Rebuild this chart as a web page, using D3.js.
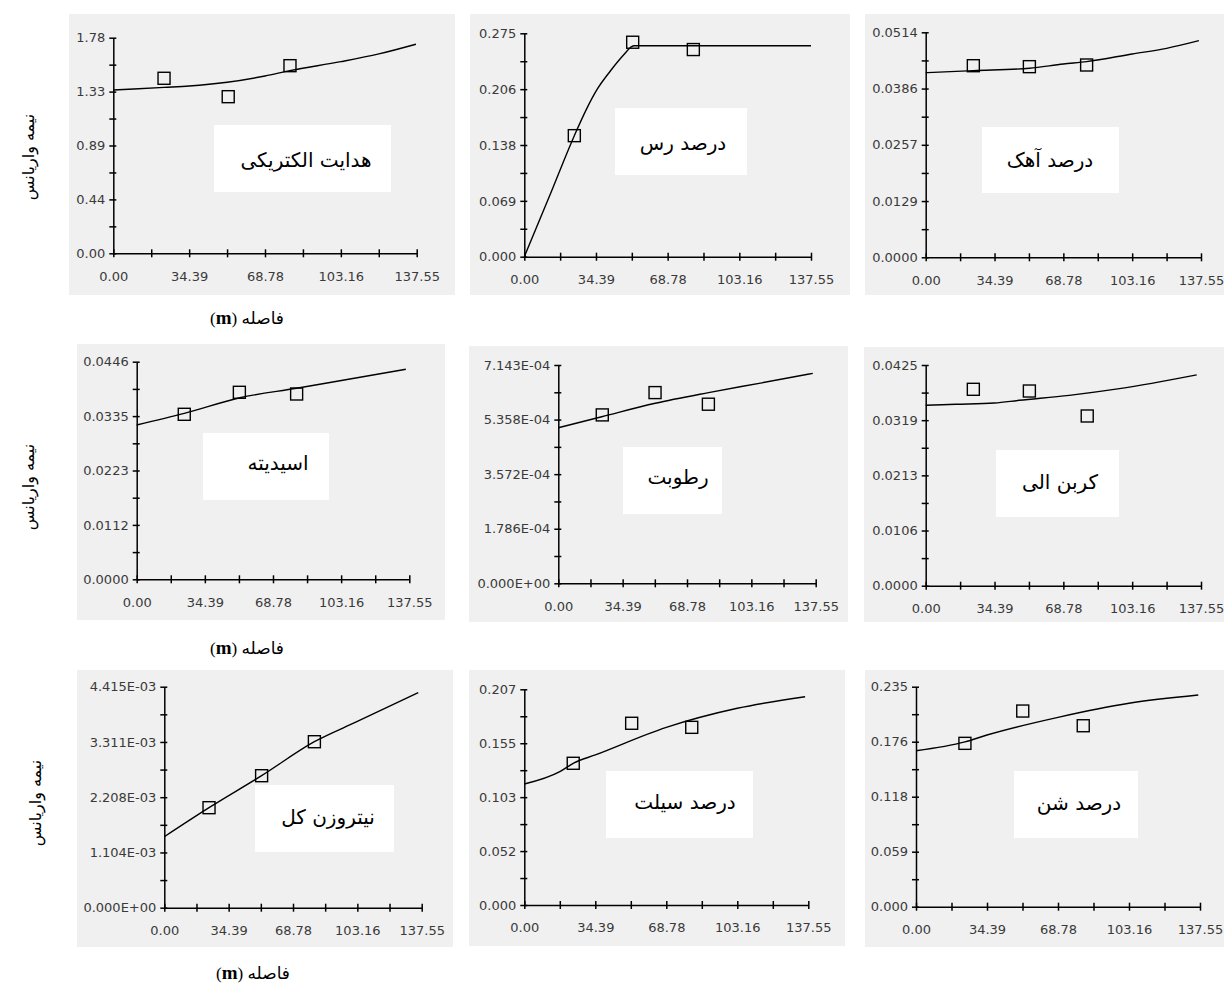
<!DOCTYPE html>
<html>
<head>
<meta charset="utf-8">
<script src="https://d3js.org/d3.v7.min.js"></script>
<style>
  body { margin: 0; background: #fff; }
</style>
</head>
<body>
<svg id="chart" width="1224" height="986"></svg>
<script>
// ---- data ----
const panelTitles = ["هدایت الکتریکی", "درصد رس", "درصد آهک",
                     "اسیدیته", "رطوبت", "کربن الی",
                     "نیتروزن کل", "درصد سیلت", "درصد شن"];
const yAxisTitle = "نیمه واریانس";
const xAxisTitle = "فاصله";
const xMax = 137.55;
const xTickLabels = ["0.00", "34.39", "68.78", "103.16", "137.55"];
const yMax = [1.78, 0.275, 0.0514, 0.0446, 7.143e-4, 0.0425, 4.415e-3, 0.207, 0.235];
const yTickLabels = [
  ["0.00", "0.44", "0.89", "1.33", "1.78"],
  ["0.000", "0.069", "0.138", "0.206", "0.275"],
  ["0.0000", "0.0129", "0.0257", "0.0386", "0.0514"],
  ["0.0000", "0.0112", "0.0223", "0.0335", "0.0446"],
  ["0.000E+00", "1.786E-04", "3.572E-04", "5.358E-04", "7.143E-04"],
  ["0.0000", "0.0106", "0.0213", "0.0319", "0.0425"],
  ["0.000E+00", "1.104E-03", "2.208E-03", "3.311E-03", "4.415E-03"],
  ["0.000", "0.052", "0.103", "0.155", "0.207"],
  ["0.000", "0.059", "0.118", "0.176", "0.235"]
];
// experimental points (squares)
const pointLags = [
  [23.0, 52.1, 80.1], [24.0, 52.0, 81.1], [23.8, 51.8, 80.4],
  [24.0, 51.8, 80.7], [23.5, 51.7, 80.2], [23.8, 51.8, 80.7],
  [23.9, 52.0, 80.2], [23.7, 52.0, 81.1], [23.7, 51.7, 81.0]
];
const pointGammas = [
  [1.445, 1.293, 1.549], [0.149, 0.264, 0.255], [0.04377, 0.04355, 0.04393],
  [0.03382, 0.03833, 0.03798], [5.51e-4, 6.24e-4, 5.86e-4], [0.03782, 0.03749, 0.03268],
  [1.998e-3, 2.637e-3, 3.316e-3], [0.136, 0.1744, 0.1705], [0.1745, 0.209, 0.1933]
];
// fitted model curves
const curveLags = [
  [0, 23, 34.39, 51.6, 68.78, 80, 103.16, 120.4, 137.2],
  [0, 12, 24, 29.9, 34.7, 41.1, 47.5, 51.5, 52.5, 137.55],
  [0, 23.8, 51.8, 68.78, 80.4, 103.16, 120.36, 136.5],
  [0, 24, 52.1, 80.7, 107.6, 135.8],
  [0, 23.2, 51.8, 80.3, 108.8, 136],
  [0, 15, 34.3, 46.7, 71.7, 96.8, 135.4],
  [0, 23.9, 52, 80.2, 103.16, 135.7],
  [0, 17.2, 23.7, 34.39, 68.78, 103.16, 136],
  [0, 23.7, 34.39, 68.78, 103.16, 136.7]
];
const curveGammas = [
  [1.348, 1.37, 1.381, 1.412, 1.464, 1.508, 1.582, 1.646, 1.726],
  [0, 0.074, 0.149, 0.182, 0.205, 0.228, 0.248, 0.2585, 0.2597, 0.2597],
  [0.04218, 0.04264, 0.04318, 0.04416, 0.0447, 0.04645, 0.04774, 0.04949],
  [0.03163, 0.034, 0.03722, 0.03915, 0.04105, 0.04304],
  [5.09e-4, 5.45e-4, 5.89e-4, 6.24e-4, 6.56e-4, 6.87e-4],
  [0.03474, 0.03493, 0.03518, 0.0357, 0.03666, 0.03794, 0.0406],
  [1.418e-3, 1.998e-3, 2.637e-3, 3.316e-3, 3.72e-3, 4.295e-3],
  [0.1161, 0.128, 0.136, 0.144, 0.1705, 0.1888, 0.1999],
  [0.1666, 0.176, 0.1834, 0.2023, 0.2173, 0.2261]
];

// ---- layout (pixels) ----
// bg: gray panel, xa/xe: x axis range, yb/yt: y axis range, box: title box, tx/ty: title centre
const frames = [
  {bg: [69, 14, 455, 295],   xa: 113.3, xe: 416.7, yb: 253.3, yt: 37.7,  box: [214, 125, 391, 192],  tx: 306,  ty: 160},
  {bg: [470, 14, 850, 295],  xa: 524.3, xe: 811,   yb: 256.7, yt: 33.3,  box: [615, 108, 747, 175],  tx: 683,  ty: 143},
  {bg: [865, 14, 1224, 295], xa: 925.7, xe: 1201,  yb: 257.3, yt: 32.3,  box: [982, 127, 1119, 193], tx: 1050, ty: 160},
  {bg: [77, 344, 445, 620],  xa: 136.7, xe: 409.3, yb: 579.3, yt: 361.7, box: [203, 433, 329, 500],  tx: 278,  ty: 463},
  {bg: [469, 346, 848, 622], xa: 558.3, xe: 815.7, yb: 583.3, yt: 365,   box: [623, 447, 722, 514],  tx: 678,  ty: 477},
  {bg: [864, 347, 1224, 622],xa: 925.7, xe: 1201,  yb: 585.7, yt: 365,   box: [996, 450, 1119, 517], tx: 1060, ty: 482},
  {bg: [77, 670, 453, 947],  xa: 164.3, xe: 421.7, yb: 907.7, yt: 686.7, box: [255, 785, 394, 852],  tx: 328,  ty: 817},
  {bg: [469, 670, 845, 946], xa: 524.3, xe: 808.3, yb: 905,   yt: 689.3, box: [606, 771, 753, 838],  tx: 685,  ty: 802},
  {bg: [865, 670, 1224, 947],xa: 916,   xe: 1200,  yb: 906.7, yt: 686.7, box: [1014, 771, 1138, 838],tx: 1079, ty: 803}
];
const rowYTitle = [[28, 157], [28, 487], [35, 803]];
const rowXTitle = [[247, 318], [247, 648], [253, 973]];

const svg = d3.select("#chart");
const tickFont = "DejaVu Sans, Verdana, sans-serif";

frames.forEach((f, i) => {
  const g = svg.append("g");
  g.append("rect")
    .attr("x", f.bg[0]).attr("y", f.bg[1])
    .attr("width", f.bg[2] - f.bg[0]).attr("height", f.bg[3] - f.bg[1])
    .attr("fill", "#f0f0f0");

  const x = d3.scaleLinear().domain([0, xMax]).range([f.xa, f.xe]);
  const y = d3.scaleLinear().domain([0, yMax[i]]).range([f.yb, f.yt]);

  const xTicks = d3.range(9).map(k => k * xMax / 8);
  const yTicks = d3.range(9).map(k => k * yMax[i] / 8);

  const xAxis = g.append("g")
    .attr("transform", `translate(0,${f.yb})`)
    .call(d3.axisBottom(x).tickValues(xTicks)
      .tickFormat((d, k) => k % 2 == 0 ? xTickLabels[k / 2] : "")
      .tickSizeInner(4).tickSizeOuter(0).tickPadding(14));
  xAxis.selectAll(".tick line").attr("y1", -4).attr("y2", 4);

  const yAxis = g.append("g")
    .attr("transform", `translate(${f.xa},0)`)
    .call(d3.axisLeft(y).tickValues(yTicks)
      .tickFormat((d, k) => k % 2 == 0 ? yTickLabels[i][k / 2] : "")
      .tickSizeInner(4).tickSizeOuter(0).tickPadding(4));
  yAxis.selectAll(".tick line").attr("x1", 3).attr("x2", -4);

  [xAxis, yAxis].forEach(a => {
    a.select(".domain").attr("stroke", "#000").attr("stroke-width", 1.5);
    a.selectAll(".tick line").attr("stroke", "#000").attr("stroke-width", 1.5);
    a.selectAll("text").attr("fill", "#3a3a3a")
      .style("font-family", tickFont).style("font-size", "13px");
  });

  // title box
  g.append("rect")
    .attr("x", f.box[0]).attr("y", f.box[1])
    .attr("width", f.box[2] - f.box[0]).attr("height", f.box[3] - f.box[1])
    .attr("fill", "#fff");
  g.append("text")
    .attr("x", f.tx).attr("y", f.ty).attr("dy", "0.35em")
    .attr("text-anchor", "middle")
    .style("font-family", "DejaVu Sans, sans-serif")
    .style("font-size", "20px")
    .attr("fill", "#000")
    .text(panelTitles[i]);

  // model curve
  const pts = curveLags[i].map((l, k) => [l, curveGammas[i][k]]);
  g.append("path")
    .datum(pts)
    .attr("fill", "none").attr("stroke", "#000").attr("stroke-width", 1.4)
    .attr("d", d3.line().x(d => x(d[0])).y(d => y(d[1])).curve(d3.curveMonotoneX));

  // experimental points
  g.selectAll("rect.pt")
    .data(pointLags[i].map((l, k) => [l, pointGammas[i][k]]))
    .join("rect")
    .attr("class", "pt")
    .attr("x", d => x(d[0]) - 6).attr("y", d => y(d[1]) - 6)
    .attr("width", 12).attr("height", 12)
    .attr("fill", "none").attr("stroke", "#000").attr("stroke-width", 1.4);
});

rowYTitle.forEach(p => {
  svg.append("text")
    .attr("transform", `translate(${p[0]},${p[1]}) rotate(-90)`)
    .attr("text-anchor", "middle").attr("dy", "0.35em")
    .style("font-family", "DejaVu Sans, sans-serif")
    .style("font-size", "16px")
    .text(yAxisTitle);
});

rowXTitle.forEach(p => {
  const t = svg.append("text")
    .attr("x", p[0]).attr("y", p[1]).attr("dy", "0.35em")
    .attr("text-anchor", "middle")
    .attr("direction", "rtl")
    .style("font-family", "Liberation Serif, DejaVu Sans, serif")
    .style("font-size", "17px");
  t.append("tspan").text(xAxisTitle + " (");
  t.append("tspan").attr("font-weight", "bold").style("font-size", "19px").text("m");
  t.append("tspan").text(")");
});
</script>
</body>
</html>
